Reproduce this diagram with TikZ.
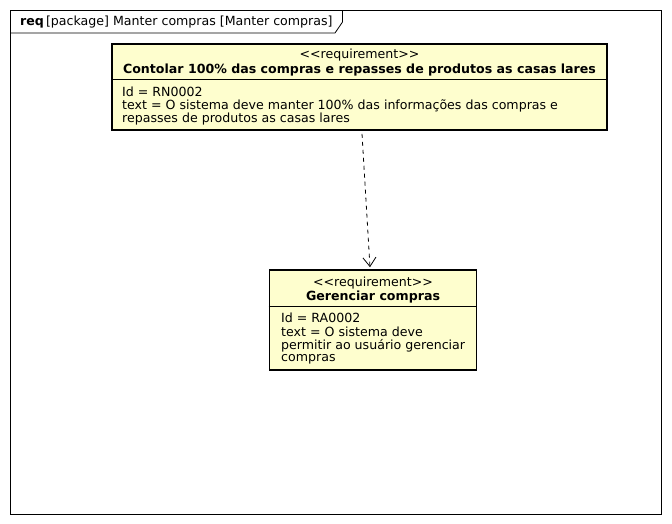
\documentclass[tikz,border=0pt]{standalone}
\usepackage{fontspec}
\setmainfont{DejaVu Sans}
\usetikzlibrary{arrows.meta}
\definecolor{reqfill}{HTML}{FEFECE}
\newcommand{\stereo}{{<}{<}requirement{>}{>}}
\begin{document}
\begin{tikzpicture}[x=1pt,y=-1pt,
  reqbox/.style={draw=black,line width=1.6pt,fill=reqfill},
  sep/.style={draw=black,line width=0.8pt},
  txt/.style={inner sep=0pt,yshift=-1.5pt,font=\fontsize{12.6}{14}\selectfont},
  lefttxt/.style={txt,anchor=west},
  frameline/.style={draw=black,line width=0.8pt},
  dep/.style={draw=black,line width=0.8pt,dash pattern=on 4pt off 4pt,-{Straight Barb[length=9pt,width=13pt,line width=0.8pt]}}
]
\useasboundingbox (0,0) rectangle (672,524);
\fill[white] (0,0) rectangle (672,524);
% frame
\draw[frameline] (10.5,10.5) rectangle (661.5,514);
\draw[frameline] (10.5,33) -- (335,33) -- (342.5,22) -- (342.5,10.5);
\node[lefttxt] (ftitle) at (20,21) {\textbf{req}\,[package] Manter compras [Manter compras]};
% box 1
\node[reqbox,minimum width=495pt,minimum height=86pt,inner sep=0pt] (b1) at (359.5,87) {};
\draw[sep] (b1.west |- 0,79.5) -- (b1.east |- 0,79.5);
\node[txt] (s1) at (359.5,54) {\stereo};
\node[txt] (t1) at (359.5,69) {\textbf{Contolar 100\% das compras e repasses de produtos as casas lares}};
\node[lefttxt] (a1) at (122,90) {Id = RN0002};
\node[lefttxt] (a2) at (122,104) {text = O sistema deve manter 100\% das informações das compras e};
\node[lefttxt] (a3) at (122,118) {repasses de produtos as casas lares};
% box 2
\node[reqbox,minimum width=207pt,minimum height=100pt,inner sep=0pt] (b2) at (373,320) {};
\draw[sep] (b2.west |- 0,306) -- (b2.east |- 0,306);
\node[txt] (s2) at (373,282) {\stereo};
\node[txt] (t2) at (373,296) {\textbf{Gerenciar compras}};
\node[lefttxt] (c1) at (281,316) {Id = RA0002};
\node[lefttxt] (c2) at (281,330) {text = O sistema deve};
\node[lefttxt] (c3) at (281,344) {permitir ao usuário gerenciar};
\node[lefttxt] (c4) at (281,358) {compras};
% dependency
\draw[dep] ([xshift=2.5pt,yshift=-3pt]b1.south) -- ([xshift=-3pt,yshift=2pt]b2.north);
\end{tikzpicture}
\end{document}
